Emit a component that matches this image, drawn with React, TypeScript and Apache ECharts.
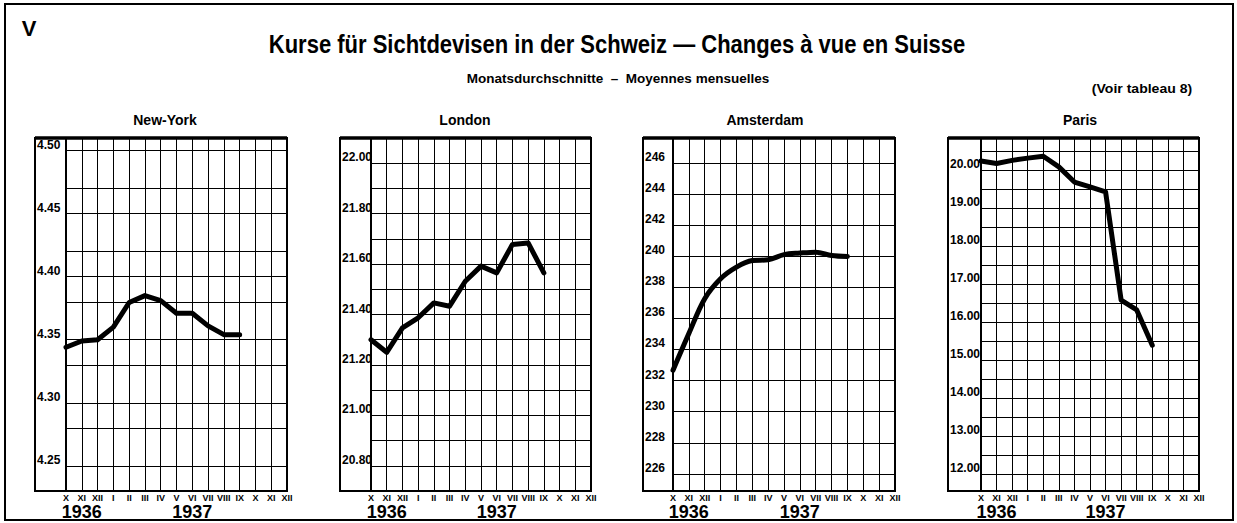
import React, { useEffect, useRef } from "react";
import * as echarts from "echarts";

// ---------- data ----------
const months = ["X", "XI", "XII", "I", "II", "III", "IV", "V", "VI", "VII", "VIII", "IX", "X", "XI", "XII"];
const yearLabels = [
  { index: 1, text: "1936" },
  { index: 8, text: "1937" },
];

const panelTitles = ["New-York", "London", "Amsterdam", "Paris"];

const newYork = [4.344, 4.349, 4.35, 4.36, 4.3795, 4.385, 4.381, 4.371, 4.371, 4.361, 4.354, 4.354];
const london = [21.3, 21.25, 21.347, 21.387, 21.446, 21.433, 21.532, 21.592, 21.565, 21.678, 21.684, 21.565];
const amsterdam = [232.67, 235.03, 237.27, 238.55, 239.3, 239.72, 239.77, 240.1, 240.2, 240.26, 240.04, 239.98];
const paris = [20.245, 20.18, 20.26, 20.32, 20.37, 20.09, 19.69, 19.56, 19.43, 16.58, 16.32, 15.39];

const nyLabels = ["4.25", "4.30", "4.35", "4.40", "4.45", "4.50"];
const londonLabels = ["20.80", "21.00", "21.20", "21.40", "21.60", "21.80", "22.00"];
const amsterdamLabels = ["226", "228", "230", "232", "234", "236", "238", "240", "242", "244", "246"];
const parisLabels = ["12.00", "13.00", "14.00", "15.00", "16.00", "17.00", "18.00", "19.00", "20.00"];

const nyGridLines = [4.25, 4.275, 4.3, 4.325, 4.35, 4.375, 4.4, 4.425, 4.45, 4.475, 4.5];
const londonGridLines = [20.8, 20.9, 21.0, 21.1, 21.2, 21.3, 21.4, 21.5, 21.6, 21.7, 21.8, 21.9, 22.0];
const amsterdamGridLines = [226, 228, 230, 232, 234, 236, 238, 240, 242, 244, 246];
const parisGridLines = [12, 12.5, 13, 13.5, 14, 14.5, 15, 15.5, 16, 16.5, 17, 17.5, 18, 18.5, 19, 19.5, 20, 20.5];

// axis ranges
const nyRange = { min: 4.23, max: 4.51, step: 0.01 };
const londonRange = { min: 20.7, max: 22.1, step: 0.1 };
const amsterdamRange = { min: 224.9, max: 247.6, step: 0.1 };
const parisRange = { min: 11.55, max: 20.85, step: 0.05 };

// ---------- layout ----------
const W = 1237;
const H = 523;
const BOX_TOP = 138;
const BOX_BOTTOM = 491;
const SANS = '"Liberation Sans", Arial, sans-serif';

const panels = [
  { title: panelTitles[0], titleX: 165, boxLeft: 35, plotLeft: 66, plotRight: 287, data: newYork, labels: nyLabels, grid: nyGridLines, range: nyRange, smooth: false },
  { title: panelTitles[1], titleX: 465, boxLeft: 340, plotLeft: 371, plotRight: 591, data: london, labels: londonLabels, grid: londonGridLines, range: londonRange, smooth: false },
  { title: panelTitles[2], titleX: 765, boxLeft: 643, plotLeft: 673, plotRight: 895, data: amsterdam, labels: amsterdamLabels, grid: amsterdamGridLines, range: amsterdamRange, smooth: 0.35 },
  { title: panelTitles[3], titleX: 1080, boxLeft: 948, plotLeft: 981, plotRight: 1199, data: paris, labels: parisLabels, grid: parisGridLines, range: parisRange, smooth: false },
];

function buildOption() {
  const grids: any[] = [];
  const xAxes: any[] = [];
  const yAxes: any[] = [];
  const series: any[] = [];
  const graphics: any[] = [];

  graphics.push({
    type: "rect",
    shape: { x: 5, y: 4, width: 1228, height: 516 },
    style: { fill: "none", stroke: "#000", lineWidth: 2 },
    silent: true,
  });
  graphics.push({
    type: "text",
    x: 29,
    y: 28,
    style: { text: "V", font: `bold 22px ${SANS}`, fill: "#000", align: "center", verticalAlign: "middle" },
  });
  graphics.push({
    type: "text",
    x: 617,
    y: 45,
    scaleX: 0.88,
    style: {
      text: "Kurse für Sichtdevisen in der Schweiz — Changes à vue en Suisse",
      font: `bold 25px ${SANS}`,
      fill: "#000",
      align: "center",
      verticalAlign: "middle",
    },
  });
  graphics.push({
    type: "text",
    x: 618,
    y: 78,
    style: {
      text: "Monatsdurchschnitte  –  Moyennes mensuelles",
      font: `bold 13.5px ${SANS}`,
      fill: "#000",
      align: "center",
      verticalAlign: "middle",
    },
  });
  graphics.push({
    type: "text",
    x: 1142,
    y: 89,
    scaleX: 1.08,
    style: { text: "(Voir tableau 8)", font: `bold 13px ${SANS}`, fill: "#000", align: "center", verticalAlign: "middle" },
  });

  panels.forEach((p, i) => {
    grids.push({
      left: p.plotLeft,
      top: BOX_TOP,
      width: p.plotRight - p.plotLeft,
      height: BOX_BOTTOM - BOX_TOP,
      containLabel: false,
    });
    // months axis
    xAxes.push({
      type: "category",
      gridIndex: i,
      boundaryGap: false,
      data: months,
      axisLine: { show: false },
      axisTick: { show: false },
      splitLine: { show: true, interval: 0, lineStyle: { color: "#000", width: 1 } },
      axisLabel: {
        interval: 0,
        margin: 2,
        color: "#000",
        fontSize: 9,
        fontWeight: "bold",
        fontFamily: SANS,
      },
    });
    // years axis
    xAxes.push({
      type: "category",
      gridIndex: i,
      position: "bottom",
      boundaryGap: false,
      data: months,
      axisLine: { show: false },
      axisTick: { show: false },
      splitLine: { show: false },
      axisLabel: {
        interval: 0,
        margin: 12,
        color: "#000",
        fontSize: 18,
        fontWeight: "bold",
        fontFamily: SANS,
        formatter: (_v: string, idx: number) => {
          const y = yearLabels.find((e) => e.index === idx);
          return y ? y.text : "";
        },
      },
    });
    yAxes.push({
      type: "value",
      gridIndex: i,
      min: p.range.min,
      max: p.range.max,
      interval: p.range.step,
      axisLine: { show: true, lineStyle: { color: "#000", width: 2 } },
      axisTick: { show: false },
      splitLine: { show: false },
      axisLabel: {
        show: true,
        margin: p.plotLeft - p.boxLeft - 2,
        align: "left",
        verticalAlign: "bottom",
        color: "#000",
        fontSize: 12,
        fontWeight: "bold",
        fontFamily: SANS,
        showMinLabel: true,
        showMaxLabel: true,
        formatter: (v: number) => {
          const l = p.labels.find((s) => Math.abs(parseFloat(s) - v) < 1e-6);
          return l ? l : "";
        },
      },
    });
    series.push({
      type: "line",
      xAxisIndex: 2 * i,
      yAxisIndex: i,
      data: p.data,
      smooth: p.smooth,
      symbol: "none",
      lineStyle: { color: "#000", width: 5, join: "round", cap: "round" },
      silent: true,
      markLine: {
        silent: true,
        symbol: ["none", "none"],
        label: { show: false },
        lineStyle: { color: "#000", width: 1, type: "solid" },
        emphasis: { disabled: true },
        data: p.grid.map((v) => ({ yAxis: v })),
      },
    });
    // panel box
    graphics.push({
      type: "rect",
      shape: { x: p.boxLeft, y: BOX_TOP, width: p.plotRight - p.boxLeft, height: BOX_BOTTOM - BOX_TOP },
      style: { fill: "none", stroke: "#000", lineWidth: 2 },
      silent: true,
      z: 100,
    });
    graphics.push({
      type: "line",
      shape: { x1: p.boxLeft, y1: BOX_TOP, x2: p.plotRight, y2: BOX_TOP },
      style: { stroke: "#000", lineWidth: 3.5 },
      silent: true,
      z: 100,
    });
    graphics.push({
      type: "text",
      x: p.titleX,
      y: 120,
      style: { text: p.title, font: `bold 14px ${SANS}`, fill: "#000", align: "center", verticalAlign: "middle" },
    });
  });

  return {
    animation: false,
    backgroundColor: "#fff",
    grid: grids,
    xAxis: xAxes,
    yAxis: yAxes,
    series,
    graphic: { elements: graphics },
  };
}

export default function App() {
  const ref = useRef<HTMLDivElement>(null);
  useEffect(() => {
    if (!ref.current) return;
    const chart = echarts.init(ref.current, null, { renderer: "svg" });
    chart.setOption(buildOption() as any);
    return () => chart.dispose();
  }, []);
  return (
    <div
      ref={ref}
      style={{ position: "fixed", left: 0, top: 0, width: W, height: H, background: "#fff" }}
    />
  );
}
